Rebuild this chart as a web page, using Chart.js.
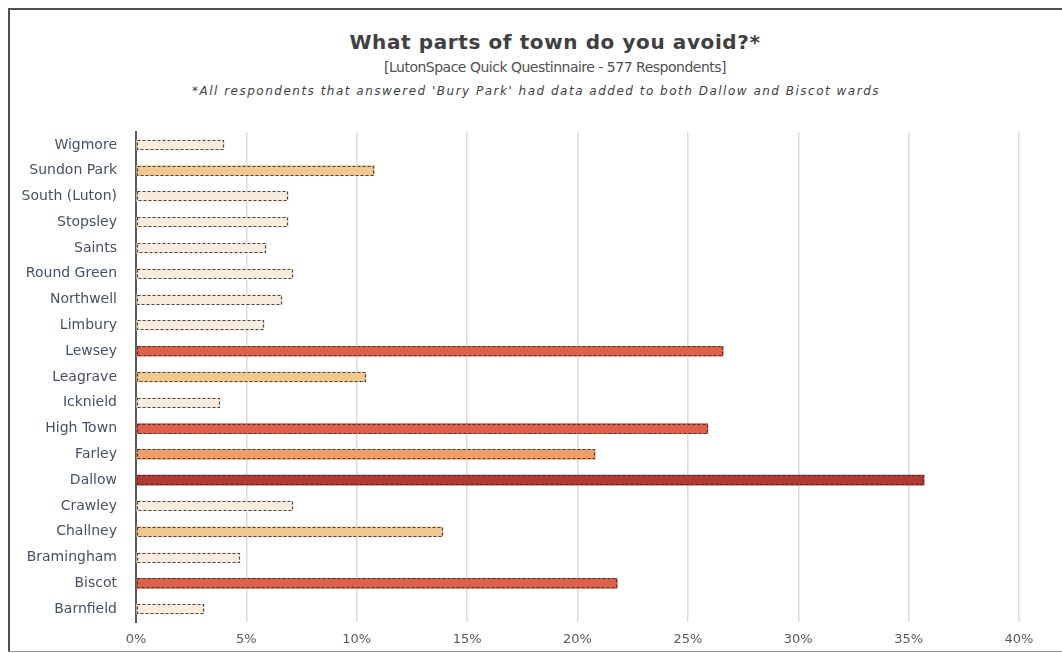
<!DOCTYPE html>
<html>
<head>
<meta charset="utf-8">
<script src="https://cdn.jsdelivr.net/npm/chart.js@4/dist/chart.umd.min.js"></script>
<style>
    body { margin: 0; background: #fff; }
    #wrap { position: relative; width: 1062px; height: 653px; overflow: hidden; }
    #frame {
        position: absolute; left: 8px; top: 8px; width: 1100px; height: 641px;
        border-left: 2px solid #505050; border-top: 2px solid #505050; border-bottom: 1px solid #9a9a9a;
    }
    .head { position: absolute; text-align: center; white-space: nowrap; font-family: "DejaVu Sans", sans-serif; }
    #title { left: 0; width: 1110px; top: 30px; font-size: 20px; font-weight: bold; color: #404040; letter-spacing: 0.6px; }
    #sub { left: 0; width: 1110px; top: 59px; font-size: 14px; color: #505050; letter-spacing: -0.5px; }
    #note { left: 0; width: 1072px; top: 84px; font-size: 12px; font-style: italic; color: #404040; letter-spacing: 1.5px; }
    canvas { position: absolute; left: 0; top: 0; }
</style>
</head>
<body>
<div id="wrap">
    <div id="frame"></div>
    <div class="head" id="title">What parts of town do you avoid?*</div>
    <div class="head" id="sub">[LutonSpace Quick Questinnaire - 577 Respondents]</div>
    <div class="head" id="note">*All respondents that answered 'Bury Park' had data added to both Dallow and Biscot wards</div>
    <canvas id="avoidChart" width="1062" height="653"></canvas>
</div>
<script>
    // Wards, top to bottom as in the chart
    const wards = ['Wigmore', 'Sundon Park', 'South (Luton)', 'Stopsley', 'Saints', 'Round Green', 'Northwell',
        'Limbury', 'Lewsey', 'Leagrave', 'Icknield', 'High Town', 'Farley', 'Dallow', 'Crawley', 'Challney',
        'Bramingham', 'Biscot', 'Barnfield'];
    // Share of respondents (%)
    const avoidPct = [4.0, 10.8, 6.9, 6.9, 5.9, 7.1, 6.6, 5.8, 26.6, 10.4, 3.8, 25.9, 20.8, 35.7, 7.1, 13.9, 4.7, 21.8, 3.1];
    const xTicks = [0, 5, 10, 15, 20, 25, 30, 35, 40];

    function colorFor(v) {
        if (v >= 30) return '#b13b31';
        if (v >= 21) return '#de6149';
        if (v >= 20) return '#f09f6b';
        if (v >= 10) return '#f1c98f';
        return '#f8eddc';
    }

    // bars get a dashed outline
    const dashedBorder = {
        id: 'dashedBorder',
        afterDatasetsDraw(chart) {
            const ctx = chart.ctx;
            const meta = chart.getDatasetMeta(0);
            ctx.save();
            ctx.strokeStyle = 'rgba(50,50,50,0.9)';
            ctx.lineWidth = 1.2;
            ctx.setLineDash([3, 2]);
            meta.data.forEach(bar => {
                const p = bar.getProps(['x', 'y', 'base', 'height'], true);
                const top = Math.round(p.y - p.height / 2) + 0.5;
                const left = Math.round(p.base) + 0.5;
                const right = Math.round(p.x) - 0.5;
                ctx.strokeRect(left, top, right - left, Math.round(p.height) - 1);
            });
            ctx.restore();
        }
    };

    const ctx = document.getElementById('avoidChart').getContext('2d');
    const avoidChart = new Chart(ctx, {
        type: 'bar',
        data: {
            labels: wards,
            datasets: [{
                data: avoidPct,
                backgroundColor: avoidPct.map(colorFor),
                borderWidth: 0,
                barThickness: 10
            }]
        },
        options: {
            indexAxis: 'y',
            responsive: false,
            animation: false,
            layout: { padding: { top: 132, right: 43, left: 0, bottom: 0 } },
            plugins: {
                legend: { display: false },
                tooltip: { enabled: false }
            },
            scales: {
                x: {
                    min: 0,
                    max: 40,
                    afterBuildTicks(scale) {
                        scale.ticks = xTicks.map(v => ({ value: v }));
                    },
                    afterFit(scale) { scale.height = 31; },
                    grid: { color: '#dcdcdc', lineWidth: 1.5, drawTicks: false },
                    border: { display: false },
                    ticks: {
                        padding: 10,
                        color: '#595959',
                        font: { family: 'DejaVu Sans', size: 13 },
                        callback: v => v + '%'
                    }
                },
                y: {
                    afterFit(scale) { scale.width = 136; },
                    grid: { display: false, drawTicks: false },
                    border: { display: true, color: '#595959', width: 2 },
                    ticks: {
                        padding: 19,
                        color: '#475066',
                        font: { family: 'DejaVu Sans', size: 14 }
                    }
                }
            }
        },
        plugins: [dashedBorder]
    });
</script>
</body>
</html>
